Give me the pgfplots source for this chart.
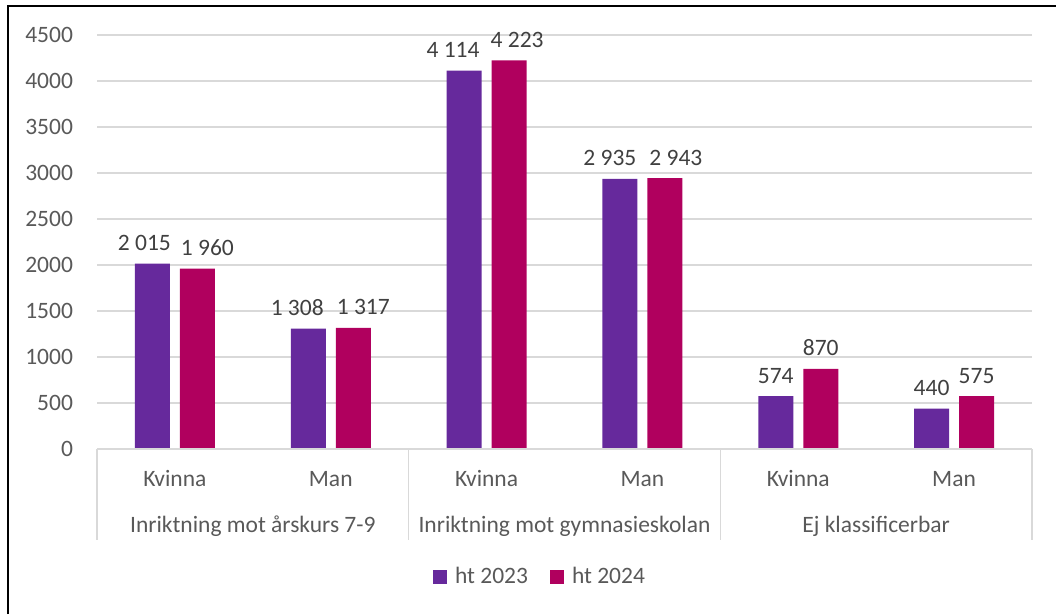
\documentclass[border=0pt]{standalone}
\usepackage{pgfplots}
\pgfplotsset{compat=1.18}
\usepackage{fontspec}
\setmainfont{Carlito}
\definecolor{c23}{RGB}{102,41,156}
\definecolor{c24}{RGB}{176,0,94}
\definecolor{txt}{RGB}{89,89,89}
\definecolor{lbl}{RGB}{64,64,64}
\definecolor{gridc}{RGB}{217,217,217}
\begin{document}
\fontsize{23.5}{28}\selectfont
\begin{tikzpicture}[x=1pt,y=1pt]
\path[use as bounding box] (0,0) rectangle (1056,614);
\draw[line width=2pt,black] (8,0) -- (8,608) -- (1056,608);
\begin{axis}[
  at={(97pt,165pt)}, anchor=south west,
  scale only axis, width=935pt, height=414pt,
  xmin=-0.5, xmax=5.5, ymin=0, ymax=4500,
  ytick={0,500,...,4500},
  xtick={0,1,2,3,4,5},
  xticklabels={Kvinna,Man,Kvinna,Man,Kvinna,Man},
  axis line style={draw=none},
  axis x line*=bottom,
  axis y line*=left,
  ymajorgrids, xmajorgrids=false, grid style={draw=gridc, line width=1.5pt},
  major tick length=0pt,
  tick style={draw=none},
  y tick label style={font=\fontsize{23.5}{28}\selectfont, text=txt, anchor=east, xshift=-16pt},
  x tick label style={font=\fontsize{23.5}{28}\selectfont, text=txt, anchor=base, yshift=-37pt},
  /pgf/number format/assume math mode=true,
  scaled y ticks=false,
  yticklabel style={/pgf/number format/1000 sep={}},
  bar width=35pt,
  ybar,
  point meta=explicit symbolic,
  visualization depends on={\thisrow{dx} \as \dx},
  nodes near coords,
  nodes near coords style={font=\fontsize{23.5}{28}\selectfont, text=lbl, anchor=base, inner sep=0pt, yshift=13pt, xshift=\dx pt},
  legend style={at={(0.4738,-0.309)}, anchor=center, draw=none, fill=none,
    legend columns=2, font=\fontsize{23.5}{28}\selectfont, text=txt,
    /tikz/every odd column/.append style={column sep=6pt},
    /tikz/every even column/.append style={column sep=20pt},
    inner sep=0pt},
  legend image code/.code={\fill[#1] (0pt,-7pt) rectangle (14pt,7pt);},
  clip=false,
]
\addplot[fill=c23, draw=none, bar shift=-22.5pt] table[x=x, y=y, meta=lab, col sep=comma] {
x,y,lab,dx
0,2015,2 015,-8
1,1308,1 308,-11
2,4114,4 114,-11
3,2935,2 935,-10
4,574,574,0
5,440,440,0
};
\addplot[fill=c24, draw=none, bar shift=22.5pt] table[x=x, y=y, meta=lab, col sep=comma] {
x,y,lab,dx
0,1960,1 960,10
1,1317,1 317,10
2,4223,4 223,8
3,2943,2 943,11
4,870,870,0
5,575,575,0
};
\legend{ht 2023, ht 2024}
\draw[gridc, line width=1.5pt] (axis cs:-0.5,0) -- (axis cs:5.5,0);
\draw[gridc, line width=1.5pt] (axis cs:-0.5,0) -- ++(0pt,-91pt);
\draw[gridc, line width=1.5pt] (axis cs:1.5,0) -- ++(0pt,-91pt);
\draw[gridc, line width=1.5pt] (axis cs:3.5,0) -- ++(0pt,-91pt);
\draw[gridc, line width=1.5pt] (axis cs:5.5,0) -- ++(0pt,-91pt);
\node[anchor=base, text=txt, inner sep=0pt] at ([yshift=-83pt]axis cs:0.5,0) {Inriktning mot årskurs 7-9};
\node[anchor=base, text=txt, inner sep=0pt] at ([yshift=-83pt]axis cs:2.5,0) {Inriktning mot gymnasieskolan};
\node[anchor=base, text=txt, inner sep=0pt] at ([yshift=-83pt]axis cs:4.5,0) {Ej klassificerbar};
\end{axis}
\end{tikzpicture}
\end{document}
